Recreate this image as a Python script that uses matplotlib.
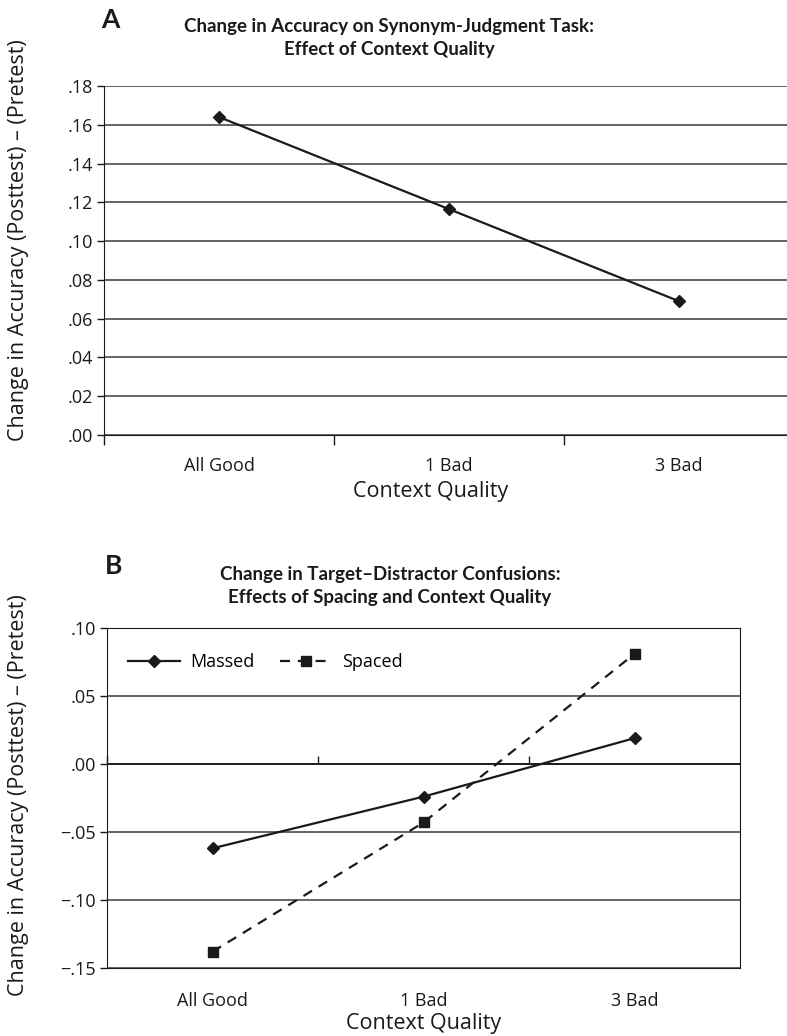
import numpy as np
import matplotlib
matplotlib.use('Agg')
import matplotlib.pyplot as plt

plt.rcParams['font.family'] = ['Open Sans', 'DejaVu Sans']

# data
categories = ['All Good', '1 Bad', '3 Bad']
acc_change = [0.164, 0.1165, 0.069]
massed = [-0.062, -0.024, 0.019]
spaced = [-0.138, -0.043, 0.081]

ylabel = 'Change in Accuracy (Posttest) \u2013 (Pretest)'
title_a = 'Change in Accuracy on Synonym-Judgment Task:\nEffect of Context Quality'
title_b = 'Change in Target\u2013Distractor Confusions:\nEffects of Spacing and Context Quality'

ink = '#1a1a1a'
grid_c = '#3a3a3a'
W, H = 787, 1036
fig = plt.figure(figsize=(W / 100, H / 100), dpi=100)

def box(l, t, r, b):
    return [l / W, 1 - b / H, (r - l) / W, (b - t) / H]

x = np.arange(len(categories))
title_font = dict(family=['Lato', 'DejaVu Sans'], fontweight='bold', fontsize=13.5)
tick_fs = 13
lab_fs = 15.5

# ---- panel A
ax1 = fig.add_axes(box(104, 86, 794, 435))
ax1.plot(x, acc_change, color=ink, lw=1.6, marker='D', ms=6.5, mfc=ink, mec=ink)
ax1.set_xlim(-0.5, 2.5)
ax1.set_ylim(0, 0.18)
ax1.set_yticks(np.arange(0, 0.181, 0.02))
ax1.set_yticklabels(['.%02d' % round(v * 100) for v in np.arange(0, 0.181, 0.02)])
ax1.yaxis.grid(True, color=grid_c, lw=1.1)
ax1.set_axisbelow(True)
for s in ['top', 'right']:
    ax1.spines[s].set_visible(False)
ax1.set_xticks(x)
ax1.set_xticklabels(categories)
ax1.set_xticks([-0.5, 0.5, 1.5], minor=True)
ax1.tick_params(axis='x', which='major', length=0, pad=16)
ax1.tick_params(axis='x', which='minor', length=7, width=1, color=ink)
ax1.tick_params(axis='y', length=5, width=1, color=ink, pad=3)
ax1.tick_params(labelsize=tick_fs, labelcolor=ink)
ax1.spines['left'].set_color(ink)
ax1.spines['bottom'].set_color(ink)
fig.text(431 / W, 1 - 492 / H, 'Context Quality', ha='center', va='center', fontsize=lab_fs, color=ink)
fig.text(19 / W, 1 - 240 / H, ylabel, rotation=90, ha='center', va='center', fontsize=lab_fs, color=ink)
fig.text(389 / W, 1 - 38 / H, title_a, ha='center', va='center', linespacing=1.45, color=ink, **title_font)
fig.text(110 / W, 1 - 20 / H, 'A', ha='center', va='center', fontsize=19, fontweight='bold',
         family=['Lato', 'DejaVu Sans'], color=ink)

# ---- panel B
ax2 = fig.add_axes(box(107, 628, 740, 968))
ax2.plot(x, massed, color=ink, lw=1.6, marker='D', ms=6.5, mfc=ink, mec=ink, label='Massed')
ax2.plot(x, spaced, color=ink, lw=1.6, ls=(0, (4.5, 3.5)), marker='s', ms=7.3, mfc=ink, mec=ink, label='Spaced')
ax2.set_xlim(-0.5, 2.5)
ax2.set_ylim(-0.15, 0.10)
yt = np.arange(-0.15, 0.101, 0.05)
ax2.set_yticks(yt)
ax2.set_yticklabels([('\u2212' if v < -1e-9 else '') + '.%02d' % round(abs(v) * 100) for v in yt])
ax2.yaxis.grid(True, color=grid_c, lw=1.1)
ax2.set_axisbelow(True)
ax2.set_xticks(x)
ax2.set_xticklabels(categories)
ax2.tick_params(axis='x', length=0, pad=17)
ax2.tick_params(axis='y', length=5, width=1, color=ink, pad=3)
ax2.tick_params(labelsize=tick_fs, labelcolor=ink)
for s in ax2.spines.values():
    s.set_color(ink)
# category boundary ticks hanging from the zero line
zero_frac = (0 - (-0.15)) / 0.25
sec = ax2.secondary_xaxis(zero_frac)
sec.set_xticks([-0.5, 0.5, 1.5])
sec.tick_params(length=6, width=1, color=ink, labelbottom=False, labeltop=False, direction='out')
sec.spines['bottom'].set_visible(False)
sec.spines['top'].set_visible(False)
ax2.axhline(0, color=ink, lw=1.3, zorder=1)
ax2.legend(loc='center left', ncol=2, frameon=False, fontsize=tick_fs, handlelength=2.9,
           columnspacing=1.4, handletextpad=0.55, borderpad=0, borderaxespad=0,
           bbox_to_anchor=(0.033, 0.9))
fig.text(424 / W, 1 - 1023 / H, 'Context Quality', ha='center', va='center', fontsize=lab_fs, color=ink)
fig.text(19 / W, 1 - 795 / H, ylabel, rotation=90, ha='center', va='center', fontsize=lab_fs, color=ink)
fig.text(390 / W, 1 - 586 / H, title_b, ha='center', va='center', linespacing=1.45, color=ink, **title_font)
fig.text(114 / W, 1 - 566 / H, 'B', ha='center', va='center', fontsize=19, fontweight='bold',
         family=['Lato', 'DejaVu Sans'], color=ink)

fig.savefig('out.png', dpi=100)
